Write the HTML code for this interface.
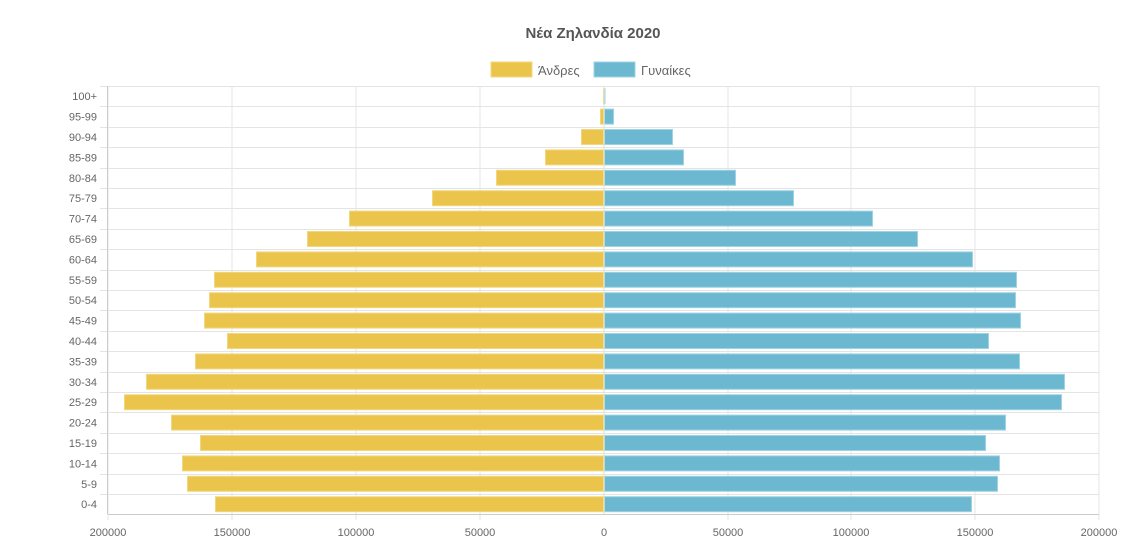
<!DOCTYPE html>
<html><head><meta charset="utf-8"><style>body{margin:0;background:#fff}svg{display:block}</style></head><body>
<svg width="1136" height="548" xmlns="http://www.w3.org/2000/svg" font-family="Liberation Sans, sans-serif">
<rect width="1136" height="548" fill="#fff"/>
<text x="593" y="38" text-anchor="middle" font-size="15" font-weight="bold" fill="#555">Νέα Ζηλανδία 2020</text>
<rect x="491" y="62" width="41" height="15" fill="#ebc44b" stroke="#f3d77f"/>
<text x="538" y="75" font-size="13" fill="#666">Άνδρες</text>
<rect x="594" y="62" width="41" height="15" fill="#6db8d1" stroke="#9fd2e3"/>
<text x="641" y="75" font-size="13" fill="#666">Γυναίκες</text>
<g stroke="#e4e4e4" stroke-width="1">
<line x1="108" y1="86" x2="108" y2="520"/><line x1="232" y1="86" x2="232" y2="520"/><line x1="356" y1="86" x2="356" y2="520"/><line x1="480" y1="86" x2="480" y2="520"/><line x1="728" y1="86" x2="728" y2="520"/><line x1="851" y1="86" x2="851" y2="520"/><line x1="975" y1="86" x2="975" y2="520"/><line x1="1099" y1="86" x2="1099" y2="520"/>
</g>
<g id="h" stroke="#e4e4e4"></g>
<g id="bars"></g>
<line x1="108" y1="514.5" x2="1099" y2="514.5" stroke="#ccc"/>
<line x1="107.5" y1="86" x2="107.5" y2="514" stroke="#ccc"/>
<g font-size="11" fill="#666" text-anchor="middle">
<text x="108" y="536">200000</text><text x="232" y="536">150000</text><text x="356" y="536">100000</text><text x="480" y="536">50000</text><text x="604" y="536">0</text><text x="728" y="536">50000</text><text x="851" y="536">100000</text><text x="975" y="536">150000</text><text x="1099" y="536">200000</text>
</g>
<g id="lab" font-size="11" fill="#666" text-anchor="end"></g>
<script>
var labs=["100+","95-99","90-94","85-89","80-84","75-79","70-74","65-69","60-64","55-59","50-54","45-49","40-44","35-39","30-34","25-29","20-24","15-19","10-14","5-9","0-4"];
var M=[603,600,581,545,496,432,349,307,256,214,209,204,227,195,146,124,171,200,182,187,215];
var F=[605,614,673,684,736,794,873,918,973,1017,1016,1021,989,1020,1065,1062,1006,986,1000,998,972];
var ns="http://www.w3.org/2000/svg",h=document.getElementById("h"),b=document.getElementById("bars"),l=document.getElementById("lab");
function el(p,t,a){var e=document.createElementNS(ns,t);for(var k in a)e.setAttribute(k,a[k]);p.appendChild(e);return e;}
for(var i=0;i<21;i++){var y0=86+20.4*i,c=y0+10.2;
el(h,"line",{x1:100,x2:1099,y1:Math.round(y0)+0.5,y2:Math.round(y0)+0.5});
el(b,"rect",{x:M[i]+0.5,y:c-7.5,width:Math.max(604-M[i]-1,0.5),height:15,fill:"#ebc44b",stroke:"#f3d77f"});
el(b,"rect",{x:604.5,y:c-7.5,width:Math.max(F[i]-605,0.5),height:15,fill:"#6db8d1",stroke:"#9fd2e3"});
var t=el(l,"text",{x:97,y:c+4});t.textContent=labs[i];}
el(b,"line",{x1:604,x2:604,y1:86,y2:514,stroke:"#e8e0c0"});
</script>
</svg>
</body></html>
